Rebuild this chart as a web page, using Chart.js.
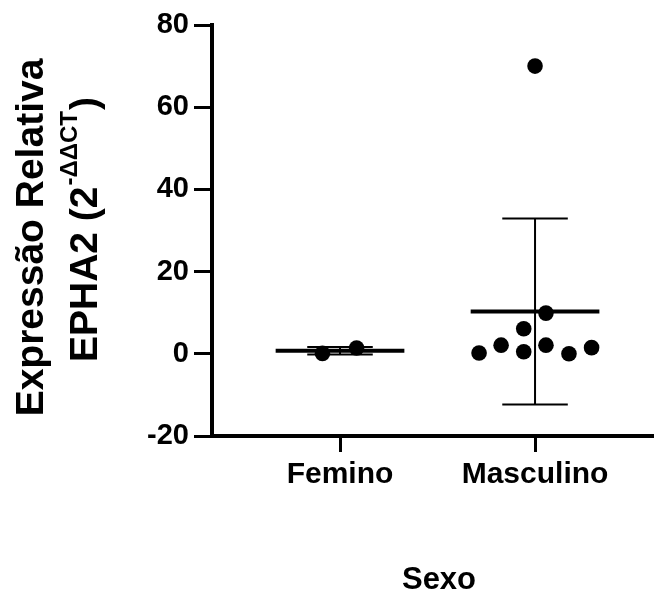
<!DOCTYPE html>
<html><head><meta charset="utf-8">
<script src="https://cdn.jsdelivr.net/npm/chart.js@4"></script>
<style>html,body{margin:0;padding:0;background:#fff}#wrap{width:654px;height:596px;position:relative}</style>
</head><body><div id="wrap"><canvas id="c" width="654" height="596"></canvas></div>
<script>
// ---- data ----
const categories = ['Femino', 'Masculino'];
const feminoValues = [0.1, 1.4];
const masculinoValues = [0.2, 2.1, 6.1, 0.5, 9.9, 2.1, 0.0, 1.5, 70.0];
const yTicks = [-20, 0, 20, 40, 60, 80];
const yTitleLine1 = 'Expressão Relativa';
const yTitleLine2 = ['EPHA2 (2', '-ΔΔCT', ')'];
const xTitle = 'Sexo';

// ---- layout (horizontal spread of dots, in category units) ----
const feminoJitter = [-0.09, 0.085];
const masculinoJitter = [-0.287, -0.174, -0.058, -0.058, 0.056, 0.056, 0.174, 0.29, 0];

const FONT = '"Liberation Sans", Arial, Helvetica, sans-serif';
const groups = [feminoValues, masculinoValues];
const jitters = [feminoJitter, masculinoJitter];

function mean(a) { return a.reduce((s, v) => s + v, 0) / a.length; }
function sd(a) { const m = mean(a); return Math.sqrt(a.reduce((s, v) => s + (v - m) * (v - m), 0) / (a.length - 1)); }

const datasets = groups.map((vals, gi) => ({
  label: categories[gi],
  data: vals.map((v, i) => ({ x: gi + 1 + jitters[gi][i], y: v })),
  backgroundColor: '#000',
  borderColor: '#000',
  borderWidth: 0,
  pointRadius: 7.8,
  pointHoverRadius: 7.8
}));

const statsPlugin = {
  id: 'stats',
  beforeDatasetsDraw(chart) {
    const { ctx, scales: { x, y } } = chart;
    groups.forEach((vals, gi) => {
      const c = gi + 1, m = mean(vals), s = sd(vals);
      const px = x.getPixelForValue(c);
      ctx.save();
      ctx.strokeStyle = '#000';
      ctx.lineCap = 'butt';
      ctx.lineWidth = 2;
      ctx.beginPath();
      ctx.moveTo(px, y.getPixelForValue(m - s));
      ctx.lineTo(px, y.getPixelForValue(m + s));
      [m - s, m + s].forEach(v => {
        const py = y.getPixelForValue(v);
        ctx.moveTo(x.getPixelForValue(c - 0.168), py);
        ctx.lineTo(x.getPixelForValue(c + 0.168), py);
      });
      ctx.stroke();
      ctx.lineWidth = 4;
      ctx.beginPath();
      const pm = y.getPixelForValue(m);
      ctx.moveTo(x.getPixelForValue(c - 0.33), pm);
      ctx.lineTo(x.getPixelForValue(c + 0.33), pm);
      ctx.stroke();
      ctx.restore();
    });
  },
  afterDraw(chart) {
    const ctx = chart.ctx;
    const ca = chart.chartArea;
    const cy = (ca.top + ca.bottom) / 2;
    ctx.save();
    ctx.fillStyle = '#000';
    ctx.textBaseline = 'alphabetic';
    // line 1
    ctx.save();
    ctx.translate(43, cy + 7);
    ctx.rotate(-Math.PI / 2);
    ctx.font = 'bold 39px ' + FONT;
    ctx.textAlign = 'center';
    ctx.fillText(yTitleLine1, 0, 0);
    ctx.restore();
    // line 2 with superscript
    ctx.save();
    ctx.translate(97, cy);
    ctx.rotate(-Math.PI / 2);
    ctx.textAlign = 'left';
    const mainF = 'bold 39px ' + FONT, supF = 'bold 24px ' + FONT;
    ctx.font = mainF; const w1 = ctx.measureText(yTitleLine2[0]).width; const w3 = ctx.measureText(yTitleLine2[2]).width;
    ctx.font = supF; const w2 = ctx.measureText(yTitleLine2[1]).width;
    let sx = -(w1 + w2 + w3) / 2;
    ctx.font = mainF; ctx.fillText(yTitleLine2[0], sx, 0);
    ctx.font = supF; ctx.fillText(yTitleLine2[1], sx + w1 + 1, -20);
    ctx.font = mainF; ctx.fillText(yTitleLine2[2], sx + w1 + w2 + 2, 0);
    ctx.restore();
    // x title
    ctx.font = 'bold 31px ' + FONT;
    ctx.textAlign = 'center';
    ctx.fillText(xTitle, 439, 589);
    ctx.restore();
  }
};

new Chart(document.getElementById('c'), {
  type: 'scatter',
  data: { datasets },
  plugins: [statsPlugin],
  options: {
    responsive: false,
    animation: false,
    events: [],
    layout: { autoPadding: false, padding: { top: 25, left: 0, right: 0, bottom: 0 } },
    plugins: { legend: { display: false }, tooltip: { enabled: false } },
    scales: {
      x: {
        type: 'linear',
        min: 0.3436,
        max: 2.61,
        afterFit(scale) { scale.height = 160; },
        afterBuildTicks(scale) { scale.ticks = categories.map((_, i) => ({ value: i + 1 })); },
        ticks: {
          color: '#000',
          font: { family: FONT, size: 30, weight: 'bold' },
          padding: 5,
          maxRotation: 0,
          autoSkip: false,
          callback: (v) => categories[Math.round(v) - 1] || ''
        },
        grid: { drawOnChartArea: false, drawTicks: true, tickLength: 16, tickWidth: 3, tickColor: '#000' },
        border: { display: true, color: '#000', width: 4 }
      },
      y: {
        type: 'linear',
        min: -20,
        max: 80,
        afterFit(scale) { scale.width = 212; },
        afterBuildTicks(scale) { scale.ticks = yTicks.map(v => ({ value: v })); },
        ticks: {
          color: '#000',
          font: { family: FONT, size: 29, weight: 'bold' },
          padding: 5
        },
        grid: { drawOnChartArea: false, drawTicks: true, tickLength: 18, tickWidth: 3, tickColor: '#000' },
        border: { display: true, color: '#000', width: 4 }
      }
    }
  }
});
</script>
</body></html>
